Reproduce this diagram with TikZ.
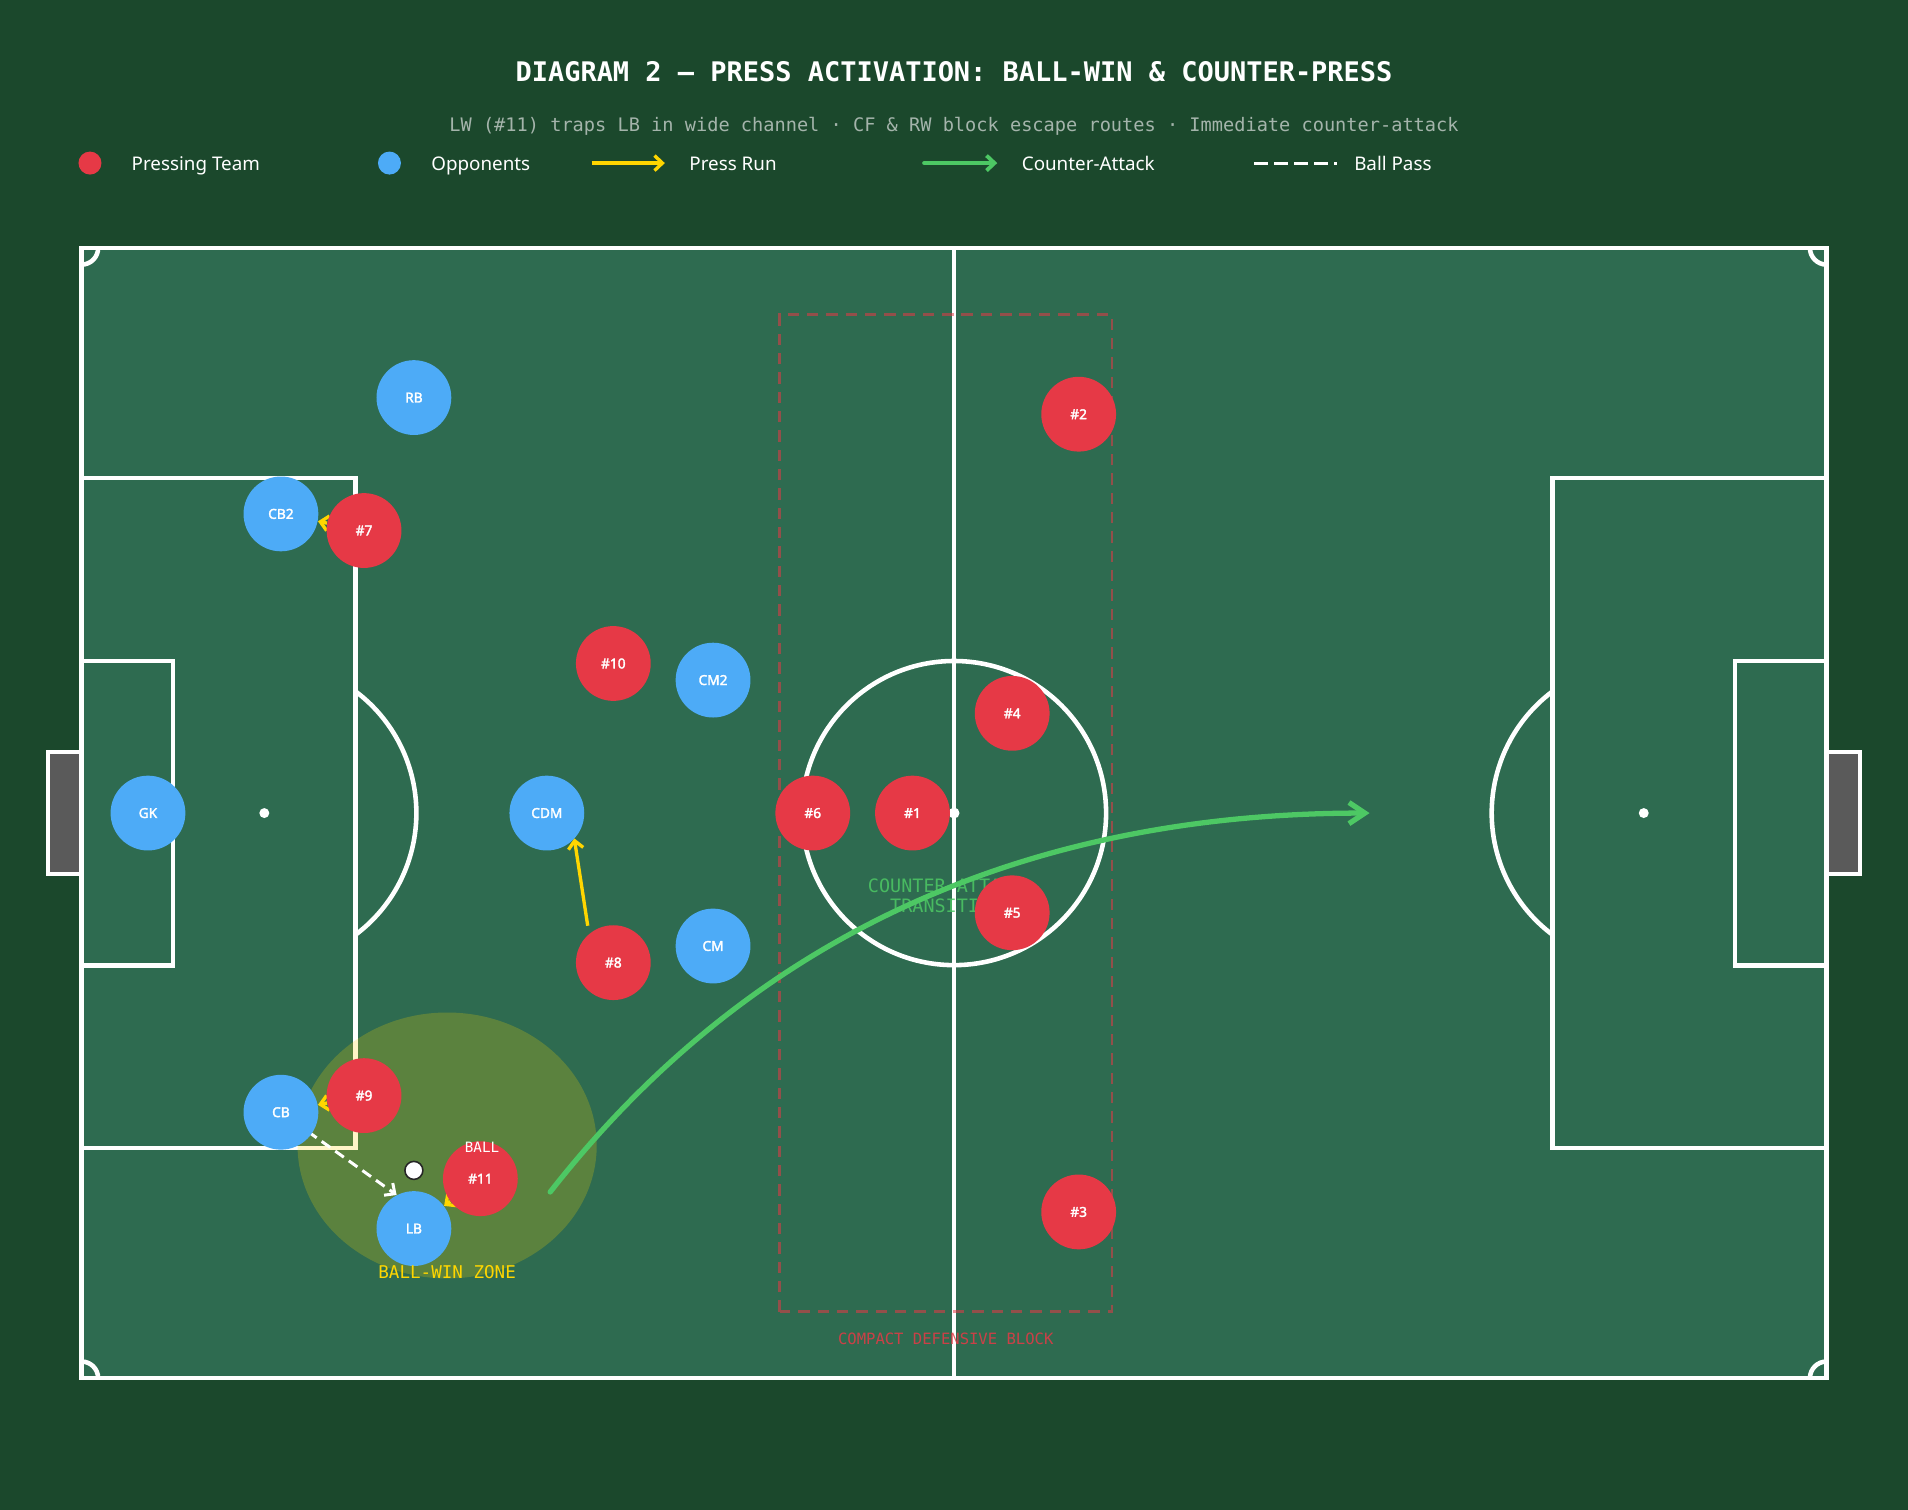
\documentclass[tikz,border=0pt]{standalone}
\usepackage{fontspec}
\setmainfont{Noto Sans}
\setmonofont{DejaVu Sans Mono}
\newfontfamily\playerfont{Noto Sans}[AutoFakeBold=2.2]
\usetikzlibrary{arrows.meta}

\definecolor{bgdark}{RGB}{27,72,44}
\definecolor{pitchgreen}{RGB}{46,107,80}
\definecolor{pressred}{RGB}{230,57,70}
\definecolor{oppblue}{RGB}{77,171,247}
\definecolor{runyellow}{RGB}{255,214,0}
\definecolor{countergreen}{RGB}{77,200,100}
\definecolor{goalgrey}{RGB}{90,90,90}
\definecolor{subgrey}{RGB}{164,180,171}

\pgfdeclarelayer{pitchlayer}
\pgfdeclarelayer{runlayer}
\pgfsetlayers{pitchlayer,runlayer,main}

\begin{document}
\begin{tikzpicture}[x=0.3324cm, y=0.3324cm,
	line/.style={white, line width=2.6pt},
	press/.style={circle, fill=pressred, minimum size=1.496cm, inner sep=0pt, text=white, font=\playerfont\bfseries\fontsize{7.8}{8}\selectfont},
	opp/.style={press, fill=oppblue},
	run/.style={runyellow, line width=1.9pt, -{Straight Barb[length=4.5pt,width=8.5pt]}},
	pass/.style={white, line width=1.7pt, dash pattern=on 6pt off 3.5pt, -{Straight Barb[length=4.5pt,width=8.5pt]}},
	counter/.style={countergreen, line width=3pt, line cap=round, -{Straight Barb[length=9pt,width=12pt]}},
	legtext/.style={anchor=base west, inner sep=0pt, text=white, font=\fontsize{10.7}{12}\selectfont},
	legdot/.style={circle, minimum size=0.46cm, inner sep=0pt}]

	\begin{pgfonlayer}{pitchlayer}
		\fill[bgdark] (-4.904,-7.913) rectangle (109.9,82.923);
		\fill[pitchgreen] (0,0) rectangle (105,68);
		\filldraw[fill=goalgrey, draw=white, line width=2.3pt] (-2,30.34) rectangle (0,37.66);
		\filldraw[fill=goalgrey, draw=white, line width=2.3pt] (105,30.34) rectangle (107,37.66);
		\draw[line] (0,0) rectangle (105,68);
		\draw[line] (52.5,0) -- (52.5,68);
		\draw[line] (52.5,34) circle (9.15);
		\fill[white] (52.5,34) circle (0.33);
		\draw[line] (0,13.84) rectangle (16.5,54.16);
		\draw[line] (0,24.84) rectangle (5.5,43.16);
		\draw[line] (105,13.84) rectangle (88.5,54.16);
		\draw[line] (105,24.84) rectangle (99.5,43.16);
		\fill[white] (11,34) circle (0.3);
		\fill[white] (94,34) circle (0.3);
		\draw[line] ([shift={(-53.05:9.15)}]11,34) arc (-53.05:53.05:9.15);
		\draw[line] ([shift={(126.95:9.15)}]94,34) arc (126.95:233.05:9.15);
		\draw[line] (1,0) arc (0:90:1);
		\draw[line] (0,67) arc (-90:0:1);
		\draw[line] (104,68) arc (180:270:1);
		\draw[line] (105,1) arc (90:180:1);
		\fill[runyellow, opacity=0.22] (22,14) ellipse [x radius=9, y radius=8];
		\draw[pressred, opacity=0.55, line width=1.4pt, dash pattern=on 6.5pt off 4.5pt] (42,4) rectangle (62,64);
		\node[text=pressred, text opacity=0.85, font=\ttfamily\fontsize{8.85}{10}\selectfont] (blocklabel) at (52,2.36) {COMPACT DEFENSIVE BLOCK};
		\node[align=center, text=countergreen, text opacity=0.85, font=\ttfamily\fontsize{10.5}{11.4}\selectfont] (transition) at (52,29.0) {COUNTER-ATTACK\\TRANSITION};
	\end{pgfonlayer}

	\node[text=white, font=\ttfamily\bfseries\fontsize{15.35}{18}\selectfont] (title) at (52.5,78.59) {DIAGRAM 2 — PRESS ACTIVATION: BALL-WIN \& COUNTER-PRESS};
	\node[text=subgrey, font=\ttfamily\fontsize{10.6}{12}\selectfont] (subtitle) at (52.5,75.31) {LW (\#11) traps LB in wide channel · CF \& RW block escape routes · Immediate counter-attack};

	\node[legdot, fill=pressred] (legpress) at (0.51,73.11) {};
	\node[legtext] (legpresstext) at (3.0,72.64) {Pressing Team};
	\node[legdot, fill=oppblue] (legopp) at (18.53,73.11) {};
	\node[legtext] (legopptext) at (21.03,72.64) {Opponents};
	\coordinate (legrun1) at (30.7,73.11);
	\coordinate (legrun2) at (35.1,73.11);
	\draw[run, line width=1.9pt] (legrun1) -- (legrun2);
	\node[legtext] (legruntext) at (36.56,72.64) {Press Run};
	\coordinate (legcounter1) at (50.7,73.11);
	\coordinate (legcounter2) at (55.1,73.11);
	\draw[counter, line width=2.2pt, -{Straight Barb[length=4.5pt,width=8.5pt]}] (legcounter1) -- (legcounter2);
	\node[legtext] (legcountertext) at (56.56,72.64) {Counter-Attack};
	\coordinate (legpass1) at (70.55,73.11);
	\coordinate (legpass2) at (75.53,73.11);
	\draw[white, line width=1.7pt, dash pattern=on 8pt off 3.4pt] (legpass1) -- (legpass2);
	\node[legtext] (legpasstext) at (76.56,72.64) {Ball Pass};

	\node[circle, fill=white, draw=black!85, line width=0.9pt, minimum size=0.36cm, inner sep=0pt] (ball) at (20,12.5) {};

	\node[opp] (rb) at (20,59) {RB};
	\node[opp] (cb2) at (12,52) {CB2};
	\node[press] (p7) at (17,51) {\#7};
	\node[press] (p10) at (32,43) {\#10};
	\node[opp] (cm2) at (38,42) {CM2};
	\node[opp] (gk) at (4,34) {GK};
	\node[opp] (cdm) at (28,34) {CDM};
	\node[press] (p6) at (44,34) {\#6};
	\node[press] (p1) at (50,34) {\#1};
	\node[press] (p4) at (56,40) {\#4};
	\node[press] (p5) at (56,28) {\#5};
	\node[press] (p2) at (60,58) {\#2};
	\node[press] (p3) at (60,10) {\#3};
	\node[press] (p8) at (32,25) {\#8};
	\node[opp] (cm) at (38,26) {CM};
	\node[opp] (cb) at (12,16) {CB};
	\node[press] (p9) at (17,17) {\#9};
	\node[press] (p11) at (24,12) {\#11};
	\node[opp] (lb) at (20,9) {LB};

	\node[text=white, font=\ttfamily\fontsize{8.1}{9}\selectfont] (balllabel) at (24.1,13.9) {BALL};
	\node[text=runyellow, font=\ttfamily\fontsize{10}{12}\selectfont] (zonelabel) at (22,6.4) {BALL-WIN ZONE};

	\coordinate (run8a) at (30.46,27.22);
	\coordinate (run8b) at (29.65,32.48);
	\coordinate (passend) at (18.96,11.02);
	\coordinate (countera) at (28.2,11.2);
	\coordinate (counterb) at (77.5,34);
	\begin{pgfonlayer}{runlayer}
		\draw[run] (p7) -- (cb2);
		\draw[run] (p9) -- (cb);
		\draw[run] (p11) -- (lb);
		\draw[run] (run8a) -- (run8b);
		\draw[pass] (cb.center) -- (passend);
		\draw[counter] (countera) .. controls (40.1,26.4) and (56.5,34) .. (counterb);
	\end{pgfonlayer}
\end{tikzpicture}
\end{document}
